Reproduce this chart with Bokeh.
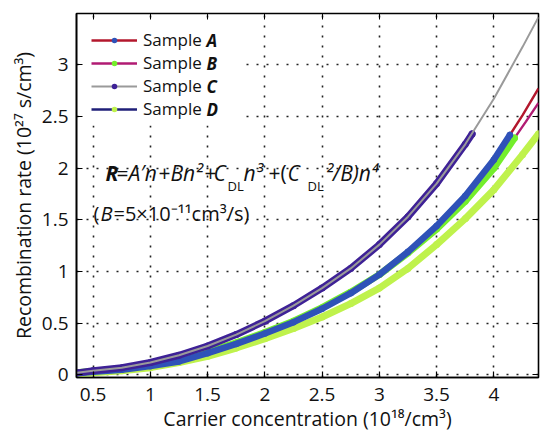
from bokeh.plotting import figure
from bokeh.models import (Range1d, LinearAxis, Legend, LegendItem, Label, BoxAnnotation,
                          FixedTicker, NumeralTickFormatter, CustomJSTickFormatter)
from bokeh.embed import file_html
from bokeh.resources import INLINE

# ---------------- data ----------------
x_ticks = [0.5, 1, 1.5, 2, 2.5, 3, 3.5, 4]
y_ticks = [0, 0.5, 1, 1.5, 2, 2.5, 3]

# Sample C: data and fit (gray)
c_n = [0.36, 0.5, 0.75, 1.0, 1.25, 1.5, 1.75, 2.0, 2.25, 2.5, 2.75, 3.0, 3.25, 3.5, 3.75, 3.81]
c_r = [0.02, 0.04, 0.07, 0.12, 0.19, 0.28, 0.39, 0.52, 0.67, 0.84, 1.03, 1.26, 1.53, 1.85, 2.23, 2.33]
c_fit_n = [0.36, 0.5, 0.75, 1.0, 1.25, 1.5, 1.75, 2.0, 2.25, 2.5, 2.75, 3.0, 3.25, 3.5, 3.75, 4.0, 4.25, 4.39]
c_fit_r = [0.02, 0.04, 0.07, 0.12, 0.19, 0.28, 0.39, 0.52, 0.67, 0.84, 1.03, 1.26, 1.53, 1.85, 2.23, 2.67, 3.17, 3.46]

# Sample A: data and fit (red)
a_n = [0.36, 0.5, 0.75, 1.0, 1.25, 1.5, 1.75, 2.0, 2.25, 2.5, 2.75, 3.0, 3.25, 3.5, 3.75, 4.0, 4.14]
a_r = [0.015, 0.03, 0.05, 0.085, 0.13, 0.21, 0.30, 0.40, 0.51, 0.64, 0.79, 0.97, 1.19, 1.44, 1.73, 2.08, 2.32]
a_fit_n = [0.36, 0.5, 0.75, 1.0, 1.25, 1.5, 1.75, 2.0, 2.25, 2.5, 2.75, 3.0, 3.25, 3.5, 3.75, 4.0, 4.14, 4.25, 4.39]
a_fit_r = [0.015, 0.03, 0.05, 0.085, 0.13, 0.21, 0.30, 0.40, 0.51, 0.64, 0.79, 0.97, 1.19, 1.44, 1.73, 2.08, 2.32, 2.51, 2.77]

# Sample B: data and fit (magenta)
b_n = [0.36, 0.5, 0.75, 1.0, 1.25, 1.5, 1.75, 2.0, 2.25, 2.5, 2.75, 3.0, 3.25, 3.5, 3.75, 4.0, 4.18]
b_r = [0.02, 0.035, 0.06, 0.095, 0.145, 0.22, 0.31, 0.41, 0.52, 0.65, 0.80, 0.97, 1.18, 1.41, 1.68, 2.0, 2.29]
b_fit_n = [0.36, 0.5, 0.75, 1.0, 1.25, 1.5, 1.75, 2.0, 2.25, 2.5, 2.75, 3.0, 3.25, 3.5, 3.75, 4.0, 4.18, 4.28, 4.39]
b_fit_r = [0.02, 0.035, 0.06, 0.095, 0.145, 0.22, 0.31, 0.41, 0.52, 0.65, 0.80, 0.97, 1.18, 1.41, 1.68, 2.0, 2.29, 2.45, 2.63]

# Sample D: data and fit (navy)
d_n = [0.36, 0.5, 0.75, 1.0, 1.25, 1.5, 1.75, 2.0, 2.25, 2.5, 2.75, 3.0, 3.25, 3.5, 3.75, 4.0, 4.25, 4.39]
d_r = [0.01, 0.02, 0.04, 0.07, 0.12, 0.18, 0.26, 0.35, 0.45, 0.56, 0.69, 0.84, 1.03, 1.26, 1.51, 1.79, 2.13, 2.33]
d_fit_n = d_n
d_fit_r = d_r

labels = ["A", "B", "C", "D"]
x_title = "Carrier concentration (10¹⁸/cm³)"
y_title = "Recombination rate (10²⁷ s/cm³)"

FONT = "Open Sans"

p = figure(width=540, height=434, output_backend="svg", toolbar_location=None,
           x_range=Range1d(0.355, 4.39), y_range=Range1d(-0.025, 3.495),
           min_border_left=76, min_border_right=2, min_border_top=13, min_border_bottom=57,
           background_fill_color=None, border_fill_color=None)

p.outline_line_color = "black"
p.outline_line_width = 1.6

for ax, ticks in ((p.xaxis, x_ticks), (p.yaxis, y_ticks)):
    ax.ticker = FixedTicker(ticks=ticks)
    ax.formatter = NumeralTickFormatter(format="0.[0]")
    ax.major_tick_in = 6
    ax.major_tick_out = 0
    ax.minor_tick_line_color = None
    ax.axis_line_color = "black"
    ax.axis_line_width = 1.6
    ax.major_tick_line_color = "black"
    ax.major_tick_line_width = 1.2
    ax.major_label_text_font = FONT
    ax.major_label_text_font_size = "19px"
    ax.major_label_text_color = "#111111"
    ax.axis_label_text_font = FONT
    ax.axis_label_text_font_size = "19.5px"
    ax.axis_label_text_font_style = "normal"
    ax.axis_label_text_color = "#111111"

p.xaxis.axis_label = x_title
p.yaxis.axis_label = y_title
p.xaxis.major_label_standoff = 10
p.xaxis.axis_label_standoff = 1
p.yaxis.major_label_standoff = 8
p.yaxis.axis_label_standoff = 2

empty = CustomJSTickFormatter(code="return ''")
top_ax = LinearAxis(ticker=FixedTicker(ticks=x_ticks), formatter=empty,
                    major_tick_in=6, major_tick_out=0, minor_tick_line_color=None,
                    axis_line_color=None, major_label_standoff=0,
                    major_tick_line_color="black")
right_ax = LinearAxis(ticker=FixedTicker(ticks=y_ticks), formatter=empty,
                      major_tick_in=6, major_tick_out=0, minor_tick_line_color=None,
                      axis_line_color=None, major_label_standoff=0,
                      major_tick_line_color="black")
p.add_layout(top_ax, "above")
p.add_layout(right_ax, "right")

for g in (p.xgrid, p.ygrid):
    g.grid_line_color = "#222222"
    g.grid_line_alpha = 1.0
    g.grid_line_width = 1.6
    g.grid_line_dash = "2 8"
p.xgrid.ticker = FixedTicker(ticks=x_ticks)
p.ygrid.ticker = FixedTicker(ticks=y_ticks)

# white box behind the legend (hides the grid there)
p.add_layout(BoxAnnotation(left=7, right=164, top=357, bottom=252,
                           left_units="screen", right_units="screen",
                           top_units="screen", bottom_units="screen",
                           fill_color="white", fill_alpha=1.0, line_color=None,
                           level="underlay"))

# ---------------- curves ----------------
col_a_line, col_a_dot = "#b3172d", "#2f52b8"
col_b_line, col_b_dot = "#b11b73", "#74ee2c"
col_c_line, col_c_dot = "#9a9a9a", "#3e2196"
col_d_line, col_d_dot = "#1f1f78", "#bff24c"

la = p.line(a_fit_n, a_fit_r, line_color=col_a_line, line_width=2.4)
lb = p.line(b_fit_n, b_fit_r, line_color=col_b_line, line_width=2.4)
ld = p.line(d_fit_n, d_fit_r, line_color=col_d_line, line_width=2.4)

# Sample D dots
p.line(d_n, d_r, line_color=col_d_dot, line_width=7, line_cap="round", line_join="round")
sd = p.scatter(d_n, d_r, size=7, fill_color=col_d_dot, line_color=None)
# Sample B dots
p.line(b_n, b_r, line_color=col_b_dot, line_width=7, line_cap="round", line_join="round")
sb = p.scatter(b_n, b_r, size=7, fill_color=col_b_dot, line_color=None)
# Sample A dots
p.line(a_n, a_r, line_color=col_a_dot, line_width=6.5, line_cap="round", line_join="round")
sa = p.scatter(a_n, a_r, size=6.5, fill_color=col_a_dot, line_color=None)
# Sample C dots + fit
p.line(c_n, c_r, line_color=col_c_dot, line_width=7, line_cap="round", line_join="round")
sc = p.scatter(c_n, c_r, size=7, fill_color=col_c_dot, line_color=None)
lc = p.line(c_fit_n, c_fit_r, line_color=col_c_line, line_width=2)

legend = Legend(items=[
    LegendItem(label="Sample", renderers=[la, sa]),
    LegendItem(label="Sample", renderers=[lb, sb]),
    LegendItem(label="Sample", renderers=[lc, sc]),
    LegendItem(label="Sample", renderers=[ld, sd]),
], location="top_left", margin=15, padding=0, spacing=0,
   glyph_width=46, glyph_height=14, label_height=20, label_width=60,
   label_standoff=6, label_text_font=FONT, label_text_font_size="17px",
   label_text_color="#111111", border_line_color=None,
   background_fill_alpha=0.0)
p.add_layout(legend)

def txt(x, y, s, size="21px", style="italic", align="left"):
    p.add_layout(Label(x=x, y=y, x_units="screen", y_units="screen", text=s,
                       text_font=FONT, text_font_size=size, text_font_style=style,
                       text_baseline="middle", text_align=align, text_color="#111111"))

rows_y = [337.4, 314.3, 291.2, 268.1]
for lab, yy in zip(labels, rows_y):
    txt(130, yy, lab, size="17px", style="bold italic")

# equation  R = A'n + Bn^2 + C_DL n^3 + (C_DL^2/B) n^4
eq_y = 205
sub_y = eq_y - 13
tokens = [
    (29, eq_y, "R", "21px", "bold italic"),
    (40, eq_y, "=", "21px", "normal"),
    (52, eq_y, "A′n", "21px", "italic"),
    (82, eq_y, "+", "21px", "normal"),
    (94, eq_y, "Bn²", "21px", "italic"),
    (128, eq_y, "+", "21px", "normal"),
    (137, eq_y, "C", "21px", "italic"),
    (151, sub_y, "DL", "13px", "normal"),
    (167, eq_y, "n³", "21px", "italic"),
    (192, eq_y, "+", "21px", "normal"),
    (204, eq_y, "(", "21px", "normal"),
    (211, eq_y, "C", "21px", "italic"),
    (231, sub_y, "DL", "13px", "normal"),
    (249, eq_y, "²/B)n⁴", "21px", "italic"),
]
for x, y, s, size, style in tokens:
    txt(x, y, s, size=size, style=style)

line2_y = 164
txt(17, line2_y, "(", size="20px", style="normal")
txt(24, line2_y, "B", size="20px", style="italic")
txt(37, line2_y, "=5×10⁻¹¹cm³/s)", size="20px", style="normal")

open("out.html", "w").write(file_html(p, INLINE))
